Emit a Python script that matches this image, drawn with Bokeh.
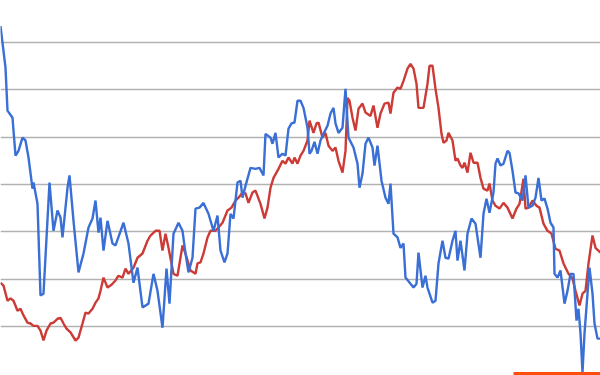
from bokeh.plotting import figure
from bokeh.models import FixedTicker, Range1d
from bokeh.embed import file_html
from bokeh.resources import INLINE

# --- data (t = sample position, v = value) ---
blue_t = [0, 5, 7, 12, 15, 18, 22, 25, 28, 32, 33, 37, 40, 43, 49, 53, 57, 60, 62, 67,
          69, 73, 78, 83, 88, 92, 95, 98, 100, 103, 107, 112, 115, 123, 128, 133, 137, 142, 148, 153,
          157, 162, 166, 169, 173, 178, 182, 185, 188, 192, 195, 199, 203, 208, 213, 217, 220, 224, 227, 230,
          233, 237, 240, 242, 245, 250, 255, 259, 263, 265, 270, 272, 275, 278, 282, 285, 288, 291, 294, 297,
          300, 303, 307, 309, 311, 314, 317, 320, 323, 327, 330, 333, 335, 338, 342, 345, 348, 353, 357, 359,
          362, 365, 368, 372, 374, 377, 381, 385, 388, 390, 393, 397, 400, 403, 405, 410, 413, 416, 418, 422,
          425, 427, 432, 435, 438, 442, 445, 448, 452, 455, 457, 460, 464, 467, 471, 475, 480, 483, 486, 489,
          493, 495, 497, 500, 503, 507, 509, 512, 515, 518, 522, 525, 528, 532, 535, 538, 541, 544, 547, 550,
          553, 554, 557, 560, 564, 567, 570, 573, 576, 578, 580, 582, 584, 587, 589, 592, 594, 597, 600]
blue_v = [73.5, 64.7, 55.6, 54.1, 46.1, 47.1, 49.9, 49.3, 45.7, 39.1, 40.4, 35.9, 16.5, 16.9, 40.4, 30.2, 34.5, 33.0, 28.8, 39.3,
          41.9, 32.3, 21.4, 25.4, 30.9, 32.8, 36.6, 29.8, 33.0, 26.0, 32.3, 27.5, 27.1, 31.9, 27.5, 19.2, 22.4, 14.0, 14.8, 21.1,
          17.5, 9.7, 22.2, 14.8, 29.6, 31.9, 30.2, 25.4, 21.4, 24.5, 34.9, 35.1, 36.1, 33.8, 30.2, 33.4, 26.0, 23.5, 25.4, 33.8,
          32.8, 40.4, 40.8, 37.2, 39.7, 43.5, 43.3, 43.5, 41.9, 50.7, 49.9, 48.6, 50.9, 45.7, 46.5, 46.1, 51.8, 52.9, 53.1, 57.7,
          57.7, 56.2, 52.0, 46.5, 47.1, 49.0, 46.5, 49.3, 50.7, 52.4, 55.0, 56.2, 52.9, 50.9, 52.0, 60.2, 49.9, 47.8, 44.4, 39.3,
          42.3, 48.6, 49.9, 47.8, 44.0, 48.2, 40.8, 37.2, 35.9, 40.2, 29.6, 28.8, 26.6, 27.5, 20.3, 19.0, 18.2, 19.0, 25.6, 18.2,
          20.7, 18.2, 15.0, 15.4, 23.3, 28.1, 24.5, 24.3, 28.1, 30.2, 23.9, 28.1, 21.8, 29.6, 32.8, 31.7, 24.5, 33.8, 37.0, 34.0,
          38.3, 44.4, 45.5, 44.0, 44.4, 47.1, 46.7, 42.9, 38.3, 38.1, 36.6, 41.9, 35.1, 35.5, 37.2, 41.4, 36.6, 37.0, 34.9, 31.9,
          30.9, 21.1, 20.3, 21.8, 14.8, 17.5, 21.1, 21.1, 11.2, 13.7, 8.5, 0.3, 8.5, 16.9, 22.4, 16.9, 10.6, 7.4, 7.4]

red_t = [0, 3, 7, 10, 13, 17, 20, 23, 27, 30, 33, 37, 40, 43, 46, 50, 53, 57, 60, 63,
         66, 70, 75, 78, 82, 85, 88, 92, 95, 98, 100, 103, 107, 111, 115, 118, 122, 125, 128, 133,
         137, 142, 147, 150, 155, 159, 162, 165, 168, 173, 177, 182, 185, 190, 195, 197, 200, 203, 207, 210,
         215, 218, 222, 227, 231, 235, 238, 242, 245, 248, 252, 255, 260, 264, 267, 270, 273, 278, 282, 285,
         288, 292, 294, 297, 300, 303, 307, 309, 313, 316, 318, 322, 325, 328, 332, 335, 338, 342, 345, 347,
         349, 352, 355, 358, 362, 365, 370, 373, 377, 380, 384, 388, 390, 393, 397, 400, 403, 407, 410, 413,
         416, 418, 423, 427, 429, 432, 435, 438, 441, 443, 446, 448, 452, 455, 457, 460, 462, 464, 467, 470,
         473, 477, 480, 483, 487, 489, 492, 495, 499, 503, 507, 512, 516, 519, 523, 525, 528, 532, 536, 539,
         543, 547, 551, 555, 559, 563, 568, 572, 575, 579, 582, 585, 588, 592, 595, 600]
red_v = [19.2, 18.6, 15.4, 15.9, 15.4, 13.3, 13.7, 12.3, 10.8, 10.6, 10.1, 10.1, 9.1, 7.0, 9.1, 10.6, 10.8, 11.6, 11.8, 10.6,
         9.5, 8.7, 7.0, 7.6, 10.6, 12.9, 12.7, 13.7, 15.0, 15.9, 17.5, 20.3, 18.2, 18.8, 19.7, 20.7, 20.3, 22.2, 21.1, 22.4,
         24.5, 25.4, 28.1, 29.2, 30.2, 30.2, 26.0, 29.6, 26.6, 21.1, 20.7, 27.1, 25.4, 21.8, 21.1, 23.3, 23.5, 25.4, 28.8, 30.2,
         30.2, 30.9, 31.9, 34.5, 35.1, 36.6, 37.2, 38.3, 38.1, 36.1, 38.3, 38.7, 35.9, 32.8, 35.1, 39.3, 41.4, 43.3, 45.0, 44.4,
         45.7, 44.4, 45.7, 44.4, 46.1, 47.1, 49.3, 53.5, 50.9, 52.9, 53.1, 49.9, 50.9, 48.2, 47.1, 47.8, 45.0, 42.5, 47.1, 58.3,
         57.7, 54.1, 51.4, 56.0, 57.1, 55.2, 54.5, 56.7, 52.0, 55.0, 57.1, 57.3, 55.0, 59.4, 60.5, 60.2, 61.9, 64.5, 65.5, 64.5,
         61.3, 56.2, 56.2, 61.3, 65.1, 65.1, 60.2, 56.2, 50.7, 48.8, 49.3, 50.9, 49.3, 45.0, 45.5, 44.0, 43.5, 44.6, 42.5, 46.7,
         44.6, 44.6, 41.4, 39.1, 38.7, 40.2, 36.6, 35.5, 34.9, 36.1, 35.1, 32.8, 34.9, 35.9, 41.2, 34.9, 35.1, 36.6, 35.5, 35.1,
         31.7, 30.2, 29.6, 26.4, 26.0, 23.3, 21.1, 20.1, 17.5, 14.4, 16.9, 17.5, 23.3, 29.2, 26.6, 25.6]

orange_t = [513, 600]
orange_v = [0.0, 0.0]

grid_ticks = [10, 20, 30, 40, 50, 60, 70]

p = figure(width=600, height=375, output_backend="svg", toolbar_location=None,
           x_range=Range1d(0, 600), y_range=Range1d(-0.4, 78.9),
           min_border=0, min_border_left=0, min_border_right=0,
           min_border_top=0, min_border_bottom=0)
p.outline_line_color = None
p.background_fill_color = "white"
p.border_fill_color = "white"

p.xaxis.visible = False
p.yaxis.visible = False
p.xgrid.grid_line_color = None
p.yaxis.ticker = FixedTicker(ticks=grid_ticks)
p.ygrid.ticker = FixedTicker(ticks=grid_ticks)
p.ygrid.grid_line_color = "#b2b2b2"
p.ygrid.grid_line_width = 1.6

p.line(red_t, red_v, line_color="#cc3b36", line_width=2.4)
p.line(blue_t, blue_v, line_color="#3a6fd6", line_width=2.4)
p.line(orange_t, orange_v, line_color="#ff4d10", line_width=3)

open("out.html", "w").write(file_html(p, INLINE))
